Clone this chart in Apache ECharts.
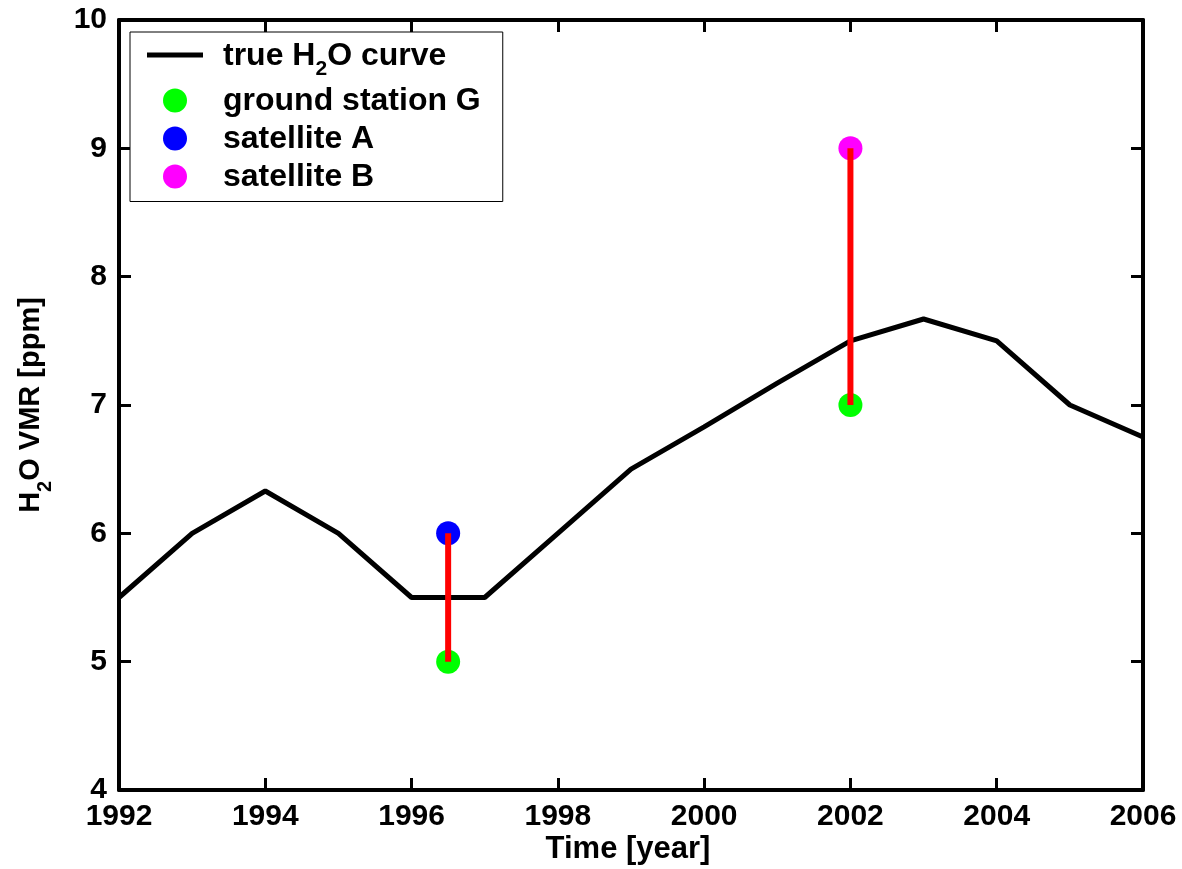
<!DOCTYPE html>
<html>
<head>
<meta charset="utf-8">
<script src="https://cdn.jsdelivr.net/npm/echarts@6/dist/echarts.min.js"></script>
<style>
  html, body { margin: 0; padding: 0; background: #fff; }
  #chart { width: 1182px; height: 869px; }
</style>
</head>
<body>
<div id="chart"></div>
<script>
// true H2O curve
const years = [1992, 1993, 1994, 1995, 1996, 1997, 1998, 1999, 2000, 2001, 2002, 2003, 2004, 2005, 2006]
const trueVmr = [5.5, 6.0, 6.33, 6.0, 5.5, 5.5, 6.0, 6.5, 6.83, 7.17, 7.5, 7.67, 7.5, 7.0, 6.75]
// measurements
const groundTimes = [1996.5, 2002]
const groundVmr = [5, 7]
const satATimes = [1996.5]
const satAVmr = [6]
const satBTimes = [2002]
const satBVmr = [9]

const FONT = 'Liberation Sans'
const pairs = (xs, ys) => xs.map((x, i) => [x, ys[i]])

const chart = echarts.init(document.getElementById('chart'), null, { renderer: 'canvas' })

const frameLine = { show: true, onZero: false, lineStyle: { color: '#000', width: 4 } }
const inTick = { show: true, inside: true, length: 12, lineStyle: { color: '#000', width: 3 } }

const option = {
  backgroundColor: '#fff',
  animation: false,
  grid: { left: 119, right: 39, top: 20, bottom: 79, outerBoundsMode: 'none' },
  // x axis title, placed by hand (axis name kept getting pushed down)
  graphic: [
    {
      type: 'text',
      x: 628,
      y: 849,
      style: {
        text: 'Time [year]',
        fontFamily: FONT,
        fontWeight: 'bold',
        fontSize: 31,
        fill: '#000',
        align: 'center',
        verticalAlign: 'middle'
      }
    }
  ],
  legend: {
    left: 130,
    top: 32,
    orient: 'vertical',
    backgroundColor: '#fff',
    borderColor: '#000',
    borderWidth: 1,
    padding: [8, 22, 8, 17],
    itemWidth: 56,
    itemHeight: 24,
    itemGap: 6,
    data: [
      { name: 'true H2O curve', icon: 'path://M0,0 L56,0 L56,5 L0,5 Z', itemStyle: { color: '#000' } },
      { name: 'ground station G', icon: 'circle' },
      { name: 'satellite A', icon: 'circle' },
      { name: 'satellite B', icon: 'circle' }
    ],
    formatter: (name) => name === 'true H2O curve'
      ? '{a|true H}{s|2}{a|O curve}'
      : '{a|' + name + '}',
    textStyle: {
      color: '#000',
      padding: [0, 0, 0, 15],
      rich: {
        a: { fontFamily: FONT, fontWeight: 'bold', fontSize: 32, lineHeight: 30, verticalAlign: 'top', color: '#000' },
        s: { fontFamily: FONT, fontWeight: 'bold', fontSize: 21, height: 2, lineHeight: 2, verticalAlign: 'bottom', color: '#000' }
      }
    }
  },
  xAxis: [
    {
      type: 'value',
      min: 1992,
      max: 2006,
      interval: 2,
      axisLine: frameLine,
      axisTick: inTick,
      splitLine: { show: false },
      axisLabel: { fontFamily: FONT, fontWeight: 'bold', fontSize: 30, color: '#000', margin: 12, formatter: (v) => String(v) }
    },
    {
      type: 'value',
      position: 'top',
      min: 1992,
      max: 2006,
      interval: 2,
      axisLine: frameLine,
      axisTick: inTick,
      splitLine: { show: false },
      axisLabel: { show: false }
    }
  ],
  yAxis: [
    {
      type: 'value',
      min: 4,
      max: 10,
      interval: 1,
      name: '{a|H}{s|2}{a|O VMR [ppm]}',
      nameLocation: 'middle',
      nameGap: 73,
      nameRotate: 90,
      nameTextStyle: {
        color: '#000',
        rich: {
          a: { fontFamily: FONT, fontWeight: 'bold', fontSize: 29, lineHeight: 30, verticalAlign: 'top', color: '#000' },
          s: { fontFamily: FONT, fontWeight: 'bold', fontSize: 20, height: 2, lineHeight: 2, verticalAlign: 'bottom', color: '#000' }
        }
      },
      axisLine: frameLine,
      axisTick: inTick,
      splitLine: { show: false },
      axisLabel: { fontFamily: FONT, fontWeight: 'bold', fontSize: 30, color: '#000', margin: 12 }
    },
    {
      type: 'value',
      position: 'right',
      min: 4,
      max: 10,
      interval: 1,
      axisLine: frameLine,
      axisTick: inTick,
      splitLine: { show: false },
      axisLabel: { show: false }
    }
  ],
  series: [
    {
      name: 'true H2O curve',
      type: 'line',
      data: pairs(years, trueVmr),
      symbol: 'none',
      lineStyle: { color: '#000', width: 5 },
      itemStyle: { color: '#000' },
      z: 2
    },
    {
      name: 'ground station G',
      type: 'scatter',
      data: pairs(groundTimes, groundVmr),
      symbolSize: 24,
      itemStyle: { color: '#00ff00', opacity: 1 },
      z: 3
    },
    {
      name: 'satellite A',
      type: 'scatter',
      data: pairs(satATimes, satAVmr),
      symbolSize: 24,
      itemStyle: { color: '#0000ff', opacity: 1 },
      z: 3
    },
    {
      name: 'satellite B',
      type: 'scatter',
      data: pairs(satBTimes, satBVmr),
      symbolSize: 24,
      itemStyle: { color: '#ff00ff', opacity: 1 },
      z: 3
    },
    // red connectors between ground and satellite values
    {
      type: 'line',
      data: [[groundTimes[0], groundVmr[0]], [satATimes[0], satAVmr[0]]],
      symbol: 'none',
      lineStyle: { color: '#ff0000', width: 6 },
      z: 4
    },
    {
      type: 'line',
      data: [[groundTimes[1], groundVmr[1]], [satBTimes[0], satBVmr[0]]],
      symbol: 'none',
      lineStyle: { color: '#ff0000', width: 6 },
      z: 4
    }
  ]
}

chart.setOption(option)
</script>
</body>
</html>
